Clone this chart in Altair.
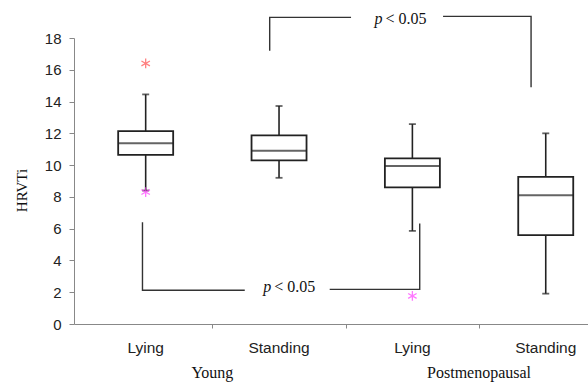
import altair as alt
import pandas as pd

# ---- data ----
categories = ["Lying", "Standing", "Lying", "Standing"]
positions = [0.5, 1.5, 2.5, 3.5]
whisker_low = [8.4, 9.2, 5.86, 1.91]
q1 = [10.65, 10.3, 8.6, 5.59]
median = [11.37, 10.9, 9.94, 8.11]
q3 = [12.14, 11.87, 10.42, 9.26]
whisker_high = [14.45, 13.72, 12.58, 12.0]

groups = ["Young", "Postmenopausal"]
group_pos = [1.0, 3.0]

outlier_x = [0.5, 0.5, 2.5]
outlier_y = [16.4, 8.3, 1.77]
outlier_kind = ["high", "low", "low"]

# significance brackets (polyline vertices in data units)
bracket_id = ["tl", "tl", "tl", "tr", "tr", "tr", "bl", "bl", "bl", "br", "br", "br"]
bracket_x = [1.43, 1.43, 2.04, 2.73, 3.39, 3.39, 0.476, 0.476, 1.243, 1.88, 2.555, 2.555]
bracket_y = [17.2, 19.3, 19.3, 19.36, 19.36, 14.9, 6.4, 2.12, 2.12, 2.18, 2.18, 6.33]
bracket_order = [0, 1, 2, 0, 1, 2, 0, 1, 2, 0, 1, 2]

sig_x = [2.283, 1.449]
sig_y = [19.2, 2.36]
sig_p = ["p", "p"]
sig_rest = ["< 0.05", "< 0.05"]

boxes = pd.DataFrame({"cat": categories, "pos": positions, "lo": whisker_low,
                      "q1": q1, "med": median, "q3": q3, "hi": whisker_high})
outs = pd.DataFrame({"x": outlier_x, "y": outlier_y, "kind": outlier_kind})
br = pd.DataFrame({"id": bracket_id, "x": bracket_x, "y": bracket_y, "o": bracket_order})
sig = pd.DataFrame({"x": sig_x, "y": sig_y, "p": sig_p, "rest": sig_rest})
grp = pd.DataFrame({"g": groups, "x": group_pos})

xscale = alt.Scale(domain=[0, 514 / 136], nice=False, zero=False)
yscale = alt.Scale(domain=[0, 18], nice=False)

X_AXIS = alt.Axis(values=[1, 2, 3], labels=False, title=None, grid=False,
                  tickSize=4, domainColor="#888888", tickColor="#888888")
Y_AXIS = alt.Axis(values=list(range(0, 19, 2)), grid=False, title="HRVTi",
                  tickSize=5, labelPadding=8, labelFont="Liberation Sans",
                  labelFontSize=15, labelColor="#222222", labelOverlap=False,
                  labelFlush=False,
                  domainColor="#888888", tickColor="#888888",
                  titleFont="Liberation Serif", titleFontSize=15,
                  titleFontWeight="normal", titleColor="#111111",
                  titleX=-53, titleY=152, titleAngle=-90,
                  titleAlign="center", titleBaseline="middle")


def xq(f):
    return alt.X(f, type="quantitative", scale=xscale, axis=X_AXIS)


def yq(f):
    return alt.Y(f, type="quantitative", scale=yscale, axis=Y_AXIS)


base = alt.Chart(boxes)
whisk = base.mark_rule(color="#222222", strokeWidth=1.6).encode(
    x=xq("pos"), y=yq("lo"), y2="hi:Q")
box = base.mark_bar(size=55, fill="white", stroke="#222222", strokeWidth=1.8).encode(
    x=xq("pos"), y=yq("q1"), y2="q3:Q")
med = base.mark_tick(orient="horizontal", size=55, thickness=2, color="#222222").encode(
    x=xq("pos"), y=yq("med"))
cap_lo = base.mark_tick(orient="horizontal", size=7, thickness=1.8, color="#222222").encode(
    x=xq("pos"), y=yq("lo"))
cap_hi = base.mark_tick(orient="horizontal", size=7, thickness=1.8, color="#222222").encode(
    x=xq("pos"), y=yq("hi"))

star = "M0,-1L0,1M-0.87,-0.5L0.87,0.5M-0.87,0.5L0.87,-0.5"
outl = alt.Chart(outs).mark_point(shape=star, size=95, filled=False, strokeWidth=1.3).encode(
    x=xq("x"), y=yq("y"),
    color=alt.Color("kind:N", scale=alt.Scale(domain=["high", "low"],
                                              range=["#ff4d4d", "#ff40ff"]), legend=None))

brackets = alt.Chart(br).mark_line(color="#333333", strokeWidth=1.4, clip=False).encode(
    x=xq("x"), y=yq("y"), detail="id:N", order="o:Q")

sig_p_txt = alt.Chart(sig).mark_text(font="Liberation Serif", fontSize=16, fontStyle="italic",
                                     align="right", baseline="middle", dx=-1,
                                     color="#111111").encode(x=xq("x"), y=yq("y"), text="p:N")
sig_r_txt = alt.Chart(sig).mark_text(font="Liberation Serif", fontSize=16,
                                     align="left", baseline="middle", dx=2,
                                     color="#111111").encode(x=xq("x"), y=yq("y"), text="rest:N")

cat_txt = base.mark_text(font="Liberation Sans", fontSize=15.5, color="#222222",
                         baseline="middle").encode(x=xq("pos"), y=alt.value(310), text="cat:N")
grp_txt = alt.Chart(grp).mark_text(font="Liberation Serif", fontSize=16, color="#111111",
                                   baseline="middle").encode(x=xq("x"), y=alt.value(335), text="g:N")

chart = alt.layer(whisk, box, med, cap_lo, cap_hi, outl, brackets,
                  sig_p_txt, sig_r_txt, cat_txt, grp_txt).properties(
    width=514, height=286,
    autosize=alt.AutoSizeParams(type="none"),
    padding={"left": 74, "top": 38, "right": 0, "bottom": 61},
    background="white",
).configure_view(stroke=None)

chart.save("out.html", embed_options={"renderer": "svg", "actions": False})
